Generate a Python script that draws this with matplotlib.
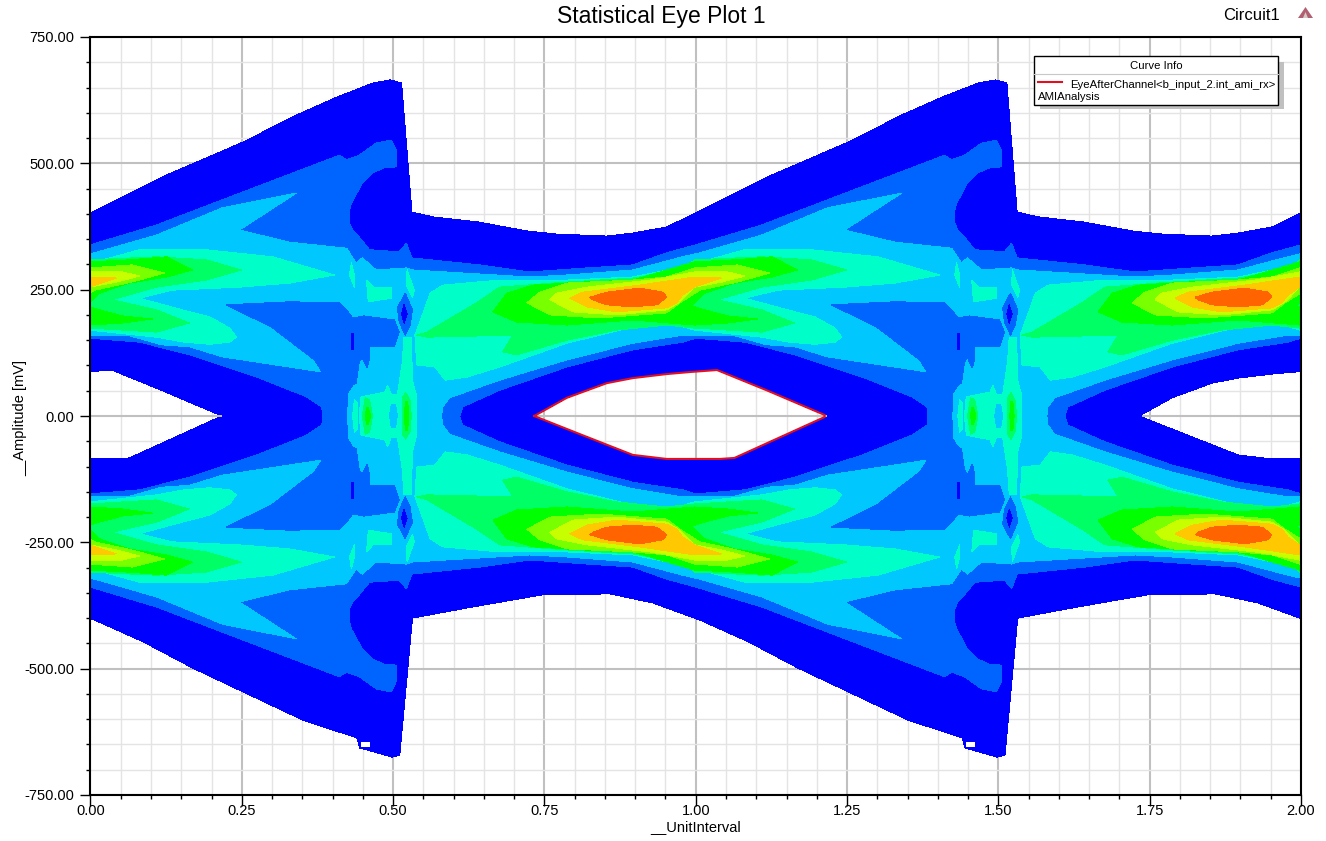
import matplotlib
matplotlib.use("Agg")
import matplotlib.pyplot as plt
from matplotlib.lines import Line2D
from matplotlib.patches import Polygon, Rectangle
from matplotlib.ticker import FormatStrFormatter, MultipleLocator

plt.rcParams['font.family'] = ['Liberation Sans', 'DejaVu Sans']

# -----------------------------
# Data (x in UI, y in mV), one period 0.53 -> 1.53
# the plot repeats every 1 UI and the lower half mirrors the upper one
# -----------------------------
outer_top_x = [.529, .566, .640, .722, .770, .853, .896, .952, 1.000, 1.126, 1.252, 1.341, 1.407, 1.467, 1.495, 1.514, 1.531]
outer_top_y = [404, 394, 384, 366, 360, 356, 362, 374, 402, 477, 542, 596, 631, 659, 665, 659, 404]
outer_bot_x = [.532, .622, .698, .747, .858, .929, 1.007, 1.087, 1.169, 1.252, 1.351, 1.440, 1.445, 1.498, 1.511, 1.532]
outer_bot_y = [-400, -380, -364, -354, -352, -370, -404, -447, -499, -546, -602, -637, -657, -675, -671, -400]

eye_top_x = [.733, .787, .853, .896, .952, .990, 1.035, 1.117, 1.213]
eye_top_y = [0, 36, 65, 75, 83, 87, 91, 51, 2]
eye_bot_x = [.733, .813, .896, .952, 1.040, 1.064, 1.213]
eye_bot_y = [0, -38, -77, -85, -85, -83, -2]

medium_x = [.530, .643, .726, .820, .896, .952, .998, 1.109, 1.251, 1.411, 1.423, 1.444, 1.472, 1.497, 1.505, 1.505,
            1.485, 1.466, 1.449, 1.441, 1.431, 1.428, 1.428, 1.433, 1.444, 1.461, 1.510, 1.522, 1.531,
            1.531, 1.384, 1.382, 1.357, 1.275, 1.164, 1.082, 1.000, .978, .896, .787, .676, .615, .610, .530]
medium_y = [313, 299, 285, 293, 299, 323, 338, 378, 443, 516, 507, 516, 540, 546, 526, 493,
            491, 481, 461, 443, 421, 408, 382, 368, 354, 329, 325, 342, 313,
            0, 0, 18, 38, 77, 121, 146, 154, 146, 131, 97, 51, 18, 0, 0]

light_x = [.532, .726, .787, .896, .978, 1.007, 1.109, 1.218, 1.340, 1.246, 1.329, 1.423, 1.439, 1.449, 1.472, 1.522, 1.532,
           1.532, 1.394, 1.383, 1.218, 1.164, 1.117, 1.061, .978, .896, .787, .676, .593, .582, .580, .532]
light_y = [289, 275, 279, 289, 315, 323, 358, 412, 441, 368, 344, 332, 303, 313, 289, 293, 289,
           0, 0, 87, 117, 137, 141, 160, 160, 144, 111, 71, 36, 18, 0, 0]

# medium blue notch under the upper lobes, runs down to the zero line
notch_x = [1.224, 1.329, 1.411, 1.423, 1.433, 1.452, 1.502, 1.510, 1.502, 1.461, 1.461, 1.457, 1.449, 1.444, 1.439, 1.433, 1.425, 1.423,
           1.383, 1.383, 1.370, 1.299]
notch_y = [220, 226, 224, 210, 194, 198, 190, 166, 137, 137, 115, 95, 115, 107, 65, 61, 46, 0,
           0, 87, 111, 176]

teal_x = [.536, .551, .561, .582, .676, .787, .896, .978, 1.081, 1.191, 1.301, 1.403, 1.329, 1.246, 1.135, 1.081,
          1.152, 1.197, 1.230, 1.241, 1.230, 1.197, 1.155, 1.109, .998, .952, .896, .787, .676, .622, .586, .569, .539]
teal_y = [160, 209, 243, 259, 269, 269, 275, 295, 329, 329, 315, 279, 263, 255, 249, 233,
          210, 196, 174, 156, 146, 142, 146, 156, 170, 186, 176, 144, 97, 77, 71, 97, 101]

spring_x = [.539, .556, .638, .676, .787, .896, .978, .998, 1.109, 1.191, 1.249, 1.191, 1.109, 1.036, 1.109, 1.163,
            1.109, .998, .952, .869, .787, .704, .681, .698, .556]
spring_y = [160, 166, 224, 255, 265, 273, 289, 309, 315, 309, 289, 269, 255, 230, 210, 184,
            166, 174, 180, 170, 150, 121, 127, 160, 156]

green_x = [.665, .688, .731, .813, .896, .998, 1.064, 1.126, 1.168, 1.126, 1.064, 1.015, .993, 1.015, 1.053, 1.102,
           1.053, .998, .896, .787, .704]
green_y = [206, 243, 259, 265, 269, 305, 309, 315, 289, 275, 263, 243, 218, 210, 198, 192,
           184, 180, 190, 180, 186]

lime_x = [.721, .742, .787, .896, .952, .998, 1.069, 1.122, 1.081, 1.061, 1.007, .974, .952, .841, .759]
lime_y = [224, 245, 263, 269, 275, 293, 299, 283, 269, 263, 249, 224, 204, 194, 200]

yellow_x = [.759, .770, .820, .924, .998, 1.053, 1.081, 1.043, .998, .974, .952, .869, .797]
yellow_y = [230, 243, 255, 269, 285, 285, 277, 265, 255, 226, 210, 200, 206]

amber_x = [.792, .813, .907, .998, 1.043, .998, .978, .969, .952, .869, .820]
amber_y = [233, 245, 259, 275, 273, 255, 239, 224, 214, 206, 216]

orange_x = [.825, .853, .907, .946, .952, .936, .896, .853, .830]
orange_y = [235, 245, 253, 245, 235, 220, 216, 220, 230]

# small spots in the crossing column
spots = [
    ([1.520, 1.532, 1.528, 1.520, 1.510, 1.507], [243, 210, 180, 160, 186, 214], '#0064FF'),
    ([1.518, 1.523, 1.518, 1.514], [220, 202, 184, 202], '#0000FF'),
    ([1.431, 1.436, 1.436, 1.431], [164, 164, 131, 131], '#0000FF'),
    ([1.431, 1.436, 1.436, 1.428], [303, 279, 255, 279], '#00FFC8'),
    ([1.456, 1.467, 1.497, 1.497, 1.459], [269, 255, 255, 233, 226], '#00FFC8'),
    ([1.523, 1.535, 1.532, 1.522], [289, 249, 235, 259], '#00FFC8'),
    ([1.444, 1.447, 1.464, 1.486, 1.491, 1.497, 1.507, 1.515, 1.518, 1.530, 1.532, 1.539, 1.539],
     [0, 38, 42, 47, 61, 42, 42, 105, 156, 156, 71, 38, 0], '#00FFC8'),
    ([1.433, 1.436, 1.441, 1.441], [0, 32, 25, 0], '#00FFC8'),
    ([1.449, 1.454, 1.461, 1.466], [0, 36, 32, 0], '#00FF64'),
    ([1.454, 1.456, 1.459, 1.463], [0, 16, 16, 0], '#00FF00'),
    ([1.494, 1.497, 1.504, 1.507], [0, 22, 22, 0], '#00C8FF'),
    ([1.515, 1.515, 1.521, 1.528, 1.530], [0, 36, 46, 30, 0], '#00FF64'),
    ([1.519, 1.520, 1.524, 1.526], [0, 28, 28, 0], '#00FF00'),
]

# little hole near the lower peak
hole_x = [1.447, 1.461, 1.461, 1.447]
hole_y = [-645, -645, -655, -655]

x_ticks = [0, .25, .5, .75, 1, 1.25, 1.5, 1.75, 2]
y_ticks = [-750, -500, -250, 0, 250, 500, 750]

# -----------------------------
# Figure and axes
# -----------------------------
W, H = 1326, 841
fig = plt.figure(figsize=(W / 100, H / 100), dpi=100)
ax = fig.add_axes([90.5 / W, (H - 795) / H, 1210.5 / W, 758 / H])
ax.set_xlim(0, 2)
ax.set_ylim(-750, 750)


def add_shape(xs, ys, color):
    # one shape, once per period
    for shift in (-1, 0, 1):
        ax.fill([x + shift for x in xs], ys, color=color, lw=0, antialiased=False, zorder=2)


def add_layer(xs, ys, color):
    # upper half and its mirror
    add_shape(xs, ys, color)
    add_shape(xs, [-y for y in ys], color)


# dark blue band, top and bottom have their own outline
add_shape(outer_top_x + [1.531] + eye_top_x[::-1] + [.529],
          outer_top_y + [0] + eye_top_y[::-1] + [0], '#0000FF')
add_shape(outer_bot_x + [1.532] + eye_bot_x[::-1] + [.532],
          outer_bot_y + [0] + eye_bot_y[::-1] + [0], '#0000FF')

add_layer(medium_x, medium_y, '#0064FF')
add_layer(light_x, light_y, '#00C8FF')
add_layer(notch_x, notch_y, '#0064FF')
add_layer(teal_x, teal_y, '#00FFC8')
add_layer(spring_x, spring_y, '#00FF64')
add_layer(green_x, green_y, '#00FF00')
add_layer(lime_x, lime_y, '#78FF00')
add_layer(yellow_x, yellow_y, '#C8FF00')
add_layer(amber_x, amber_y, '#FFC800')
add_layer(orange_x, orange_y, '#FF6400')
for sx, sy, c in spots:
    add_layer(sx, sy, c)
add_shape(hole_x, hole_y, 'white')

# eye contour, only the middle eye
ax.plot(eye_top_x + eye_bot_x[::-1], eye_top_y + eye_bot_y[::-1], color='#E01020', lw=1.5, zorder=3)

# -----------------------------
# Grid, ticks, labels
# -----------------------------
ax.set_axisbelow(True)
ax.set_xticks(x_ticks)
ax.set_yticks(y_ticks)
ax.xaxis.set_minor_locator(MultipleLocator(.05))
ax.yaxis.set_minor_locator(MultipleLocator(50))
ax.xaxis.set_major_formatter(FormatStrFormatter('%.2f'))
ax.yaxis.set_major_formatter(FormatStrFormatter('%.2f'))
ax.grid(which='major', color='#C0C0C0', lw=1.5)
ax.grid(which='minor', color='#E4E4E4', lw=1)
ax.tick_params(axis='x', which='major', length=8, width=1, labelsize=10.5, pad=-1.5)
ax.tick_params(axis='y', which='major', length=7, width=1, labelsize=10.5, pad=4.5)
ax.tick_params(which='minor', length=3, width=1)
for side in ax.spines:
    ax.spines[side].set_linewidth(1.5)
    ax.spines[side].set_zorder(5)

ax.set_xlabel('__UnitInterval', fontsize=10.5, labelpad=1.5)
ax.set_ylabel('__Amplitude [mV]', fontsize=10.5)
ax.yaxis.set_label_coords(-.0525, .497)
fig.text(661 / W, 1 - 16 / H, 'Statistical Eye Plot 1', fontsize=16.5, ha='center', va='center')
fig.text(1252 / W, 1 - 16 / H, 'Circuit1', fontsize=12, ha='center', va='center')

# small logo top right
fig.add_artist(Polygon([[1298 / W, 1 - 18 / H], [1305.5 / W, 1 - 7 / H], [1313 / W, 1 - 18 / H]],
                       transform=fig.transFigure, color='#B06070', lw=0))
fig.add_artist(Polygon([[1303 / W, 1 - 18 / H], [1305.5 / W, 1 - 12 / H], [1308 / W, 1 - 18 / H]],
                       transform=fig.transFigure, color='#D8C8C8', lw=0))

# -----------------------------
# Curve info box
# -----------------------------
fig.add_artist(Rectangle((1040 / W, 1 - 109 / H), 244 / W, 47 / H, transform=fig.transFigure,
                         color='#C0C0C0', lw=0, zorder=6))
fig.add_artist(Rectangle((1033.5 / W, 1 - 104.5 / H), 244.5 / W, 48.5 / H, transform=fig.transFigure,
                         facecolor='white', edgecolor='black', lw=1, zorder=7))
fig.add_artist(Line2D([1033.5 / W, 1278 / W], [1 - 74 / H, 1 - 74 / H], color='#C8C8C8', lw=.8, zorder=8))
fig.add_artist(Line2D([1038 / W, 1062 / W], [1 - 82 / H, 1 - 82 / H], color='#E01020', lw=1.5, zorder=8))
fig.text(1156 / W, 1 - 66 / H, 'Curve Info', fontsize=8.2, ha='center', va='center', zorder=8)
fig.text(1070 / W, 1 - 84.5 / H, 'EyeAfterChannel<b_input_2.int_ami_rx>', fontsize=8.2, ha='left', va='center', zorder=8)
fig.text(1038 / W, 1 - 96.5 / H, 'AMIAnalysis', fontsize=8.2, ha='left', va='center', zorder=8)

fig.savefig('out.png', dpi=100)
